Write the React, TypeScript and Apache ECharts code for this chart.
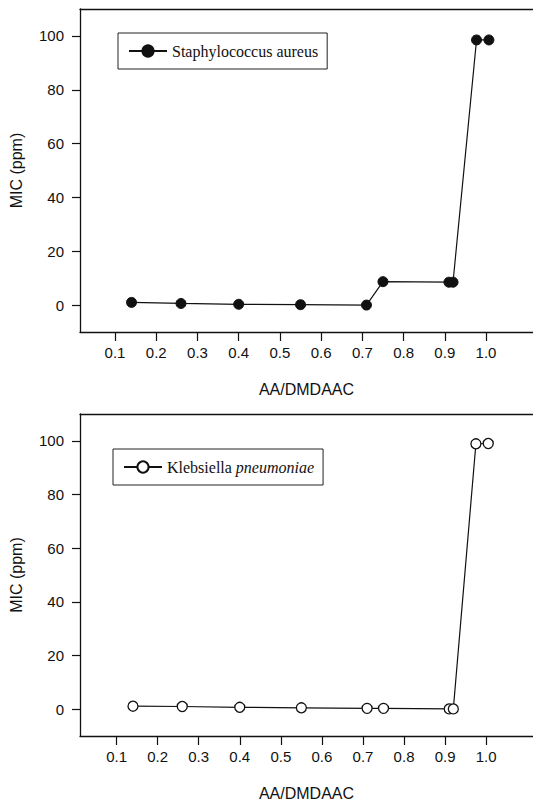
import React, { useEffect, useRef } from "react";
import * as echarts from "echarts";

const xTicks = [0.1, 0.2, 0.3, 0.4, 0.5, 0.6, 0.7, 0.8, 0.9, 1.0];
const yTicks = [0, 20, 40, 60, 80, 100];

const staphName = "Staphylococcus aureus";
const staphX = [0.14, 0.26, 0.4, 0.55, 0.71, 0.75, 0.91, 0.92, 0.977, 1.007];
const staphY = [1.0, 0.6, 0.3, 0.15, 0.0, 8.7, 8.5, 8.5, 98.5, 98.5];

const klebName = "Klebsiella pneumoniae";
const klebX = [0.14, 0.26, 0.4, 0.55, 0.71, 0.75, 0.91, 0.92, 0.975, 1.005];
const klebY = [1.1, 1.0, 0.7, 0.5, 0.3, 0.3, 0.1, 0.1, 98.9, 99.0];

const xAxisName = "AA/DMDAAC";
const yAxisName = "MIC (ppm)";

const INK = "#111";
const SANS = "'Liberation Sans', Arial, sans-serif";
const SERIF = "'Liberation Serif', 'Times New Roman', serif";

function bottomX(gridIndex: number, min: number, max: number) {
  return {
    type: "value",
    gridIndex,
    position: "bottom",
    min,
    max,
    name: xAxisName,
    nameLocation: "middle",
    nameGap: 49,
    nameTextStyle: { fontFamily: SANS, fontSize: 16, color: INK },
    axisLine: { show: true, onZero: false, lineStyle: { color: INK, width: 1.3 } },
    axisTick: { show: true, inside: false, length: 9, customValues: xTicks, lineStyle: { color: INK, width: 1.2 } },
    axisLabel: {
      show: true,
      margin: 13,
      customValues: xTicks,
      fontFamily: SANS,
      fontSize: 15,
      color: INK,
      formatter: (v: number) => v.toFixed(1),
    },
    splitLine: { show: false },
  };
}

function topX(gridIndex: number, min: number, max: number) {
  return {
    type: "value",
    gridIndex,
    position: "top",
    min,
    max,
    axisLine: { show: true, onZero: false, lineStyle: { color: INK, width: 1.3 } },
    axisTick: { show: false },
    axisLabel: { show: false },
    splitLine: { show: false },
  };
}

function leftY(gridIndex: number) {
  return {
    type: "value",
    gridIndex,
    min: -10,
    max: 110,
    name: yAxisName,
    nameLocation: "middle",
    nameGap: 56,
    nameTextStyle: { fontFamily: SANS, fontSize: 16, color: INK },
    axisLine: { show: true, onZero: false, lineStyle: { color: INK, width: 1.3 } },
    axisTick: { show: true, inside: false, length: 8, customValues: yTicks, lineStyle: { color: INK, width: 1.2 } },
    axisLabel: { show: true, margin: 16, customValues: yTicks, fontFamily: SANS, fontSize: 15, color: INK },
    splitLine: { show: false },
  };
}

export default function App() {
  const ref = useRef<HTMLDivElement>(null);

  useEffect(() => {
    if (!ref.current) return;
    const chart = echarts.init(ref.current, undefined, { renderer: "svg" });
    const option = {
      animation: false,
      backgroundColor: "#fff",
      grid: [
        { left: 79, top: 9, right: 0, bottom: 471 },
        { left: 78, top: 414, right: 0, bottom: 67 },
      ],
      xAxis: [
        bottomX(0, 0.015, 1.114),
        topX(0, 0.015, 1.114),
        bottomX(1, 0.011, 1.114),
        topX(1, 0.011, 1.114),
      ],
      yAxis: [leftY(0), leftY(1)],
      legend: [
        {
          left: 118,
          top: 33,
          data: [staphName],
          selectedMode: false,
          borderColor: "#222",
          borderWidth: 1,
          padding: [10, 9, 10, 10],
          itemWidth: 38,
          itemHeight: 14,
          textStyle: { fontFamily: SERIF, fontSize: 16, color: INK },
        },
        {
          left: 113,
          top: 449,
          data: [klebName],
          selectedMode: false,
          borderColor: "#222",
          borderWidth: 1,
          padding: [10, 9, 10, 10],
          itemWidth: 38,
          itemHeight: 14,
          formatter: () => "{n|Klebsiella} {i|pneumoniae}",
          textStyle: {
            fontFamily: SERIF,
            fontSize: 16,
            color: INK,
            rich: {
              n: { fontFamily: SERIF, fontSize: 16, color: INK },
              i: { fontFamily: SERIF, fontSize: 16, color: INK, fontStyle: "italic" },
            },
          },
        },
      ],
      series: [
        {
          name: staphName,
          type: "line",
          xAxisIndex: 0,
          yAxisIndex: 0,
          data: staphX.map((x, i) => [x, staphY[i]]),
          symbol: "circle",
          symbolSize: 10,
          lineStyle: { color: INK, width: 1.2 },
          itemStyle: { color: INK, borderColor: INK, borderWidth: 1 },
        },
        {
          name: klebName,
          type: "line",
          xAxisIndex: 2,
          yAxisIndex: 1,
          data: klebX.map((x, i) => [x, klebY[i]]),
          symbol: "circle",
          symbolSize: 10,
          lineStyle: { color: INK, width: 1.2 },
          itemStyle: { color: "#fff", borderColor: INK, borderWidth: 1.3 },
        },
      ],
    };
    chart.setOption(option as any);
    return () => chart.dispose();
  }, []);

  return (
    <div
      ref={ref}
      style={{ position: "fixed", left: 0, top: 0, width: 533, height: 803, background: "#fff" }}
    />
  );
}
